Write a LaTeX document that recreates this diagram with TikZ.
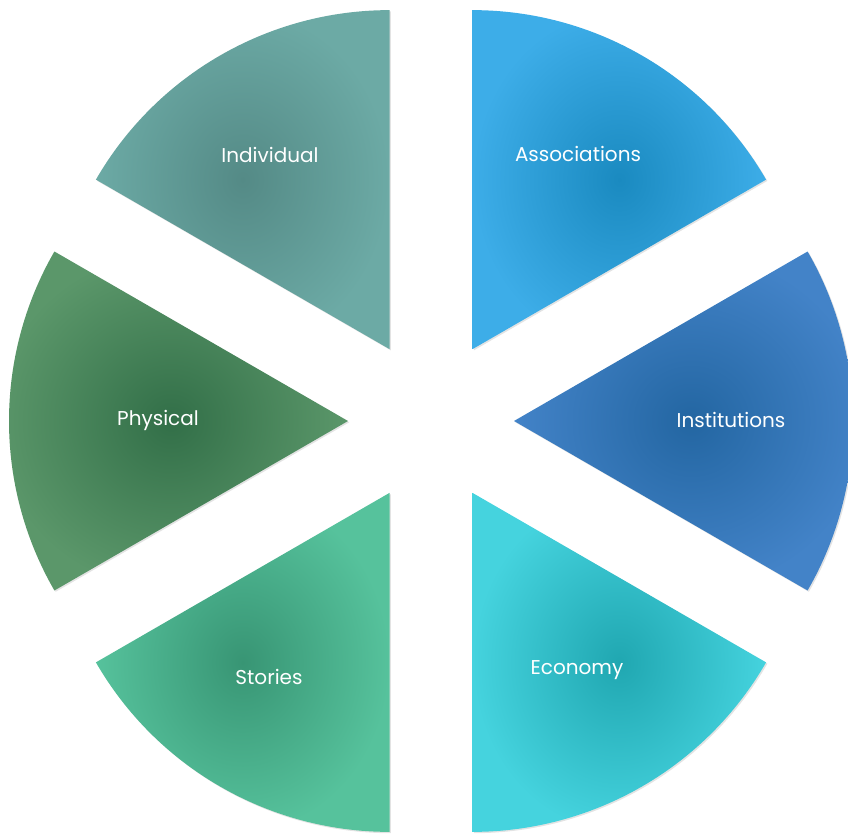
\documentclass[tikz,border=0pt]{standalone}
\usepackage{fontspec}
\setmainfont{Poppins}
\usetikzlibrary{shadows}

\definecolor{indivIn}{HTML}{548A86}
\definecolor{indivOut}{HTML}{6CAAA5}
\definecolor{assocIn}{HTML}{1A8AC0}
\definecolor{assocOut}{HTML}{3DADE8}
\definecolor{instIn}{HTML}{2366A2}
\definecolor{instOut}{HTML}{4383C8}
\definecolor{econIn}{HTML}{20A7B1}
\definecolor{econOut}{HTML}{45D3DE}
\definecolor{storIn}{HTML}{389574}
\definecolor{storOut}{HTML}{56C29C}
\definecolor{physIn}{HTML}{326F48}
\definecolor{physOut}{HTML}{5B976A}

\tikzset{
  wedgebox/.style 2 args={inner color=#1, outer color=#2,
    drop shadow={opacity=0.22, shadow xshift=1.3pt, shadow yshift=-1.3pt}},
  wedgelabel/.style={text=white, font=\fontsize{20}{24}\selectfont}
}

\begin{document}
\begin{tikzpicture}[x=1pt,y=1pt]
            \useasboundingbox (-431,-415) rectangle (417,421);
            % the six pieces, pushed 83 out from the middle
            \shade[wedgebox={assocIn}{assocOut}] (60:83) -- ++(30:339) arc[start angle=30, end angle=90, radius=339] -- cycle;
            \shade[wedgebox={instIn}{instOut}] (0:83) -- ++(-30:339) arc[start angle=-30, end angle=30, radius=339] -- cycle;
            \shade[wedgebox={econIn}{econOut}] (-60:83) -- ++(-90:339) arc[start angle=-90, end angle=-30, radius=339] -- cycle;
            \shade[wedgebox={storIn}{storOut}] (-120:83) -- ++(-150:339) arc[start angle=-150, end angle=-90, radius=339] -- cycle;
            \shade[wedgebox={physIn}{physOut}] (180:83) -- ++(150:339) arc[start angle=150, end angle=210, radius=339] -- cycle;
            \shade[wedgebox={indivIn}{indivOut}] (120:83) -- ++(90:339) arc[start angle=90, end angle=150, radius=339] -- cycle;
            % labels
            \node[wedgelabel] (individual) at (-161,266) {Individual};
            \node[wedgelabel] (associations) at (147,267) {Associations};
            \node[wedgelabel] (institutions) at (300,1) {Institutions};
            \node[wedgelabel] (economy) at (146,-249) {Economy};
            \node[wedgelabel] (stories) at (-162,-256) {Stories};
            \node[wedgelabel] (physical) at (-273,1) {Physical};
        \end{tikzpicture}
\end{document}
